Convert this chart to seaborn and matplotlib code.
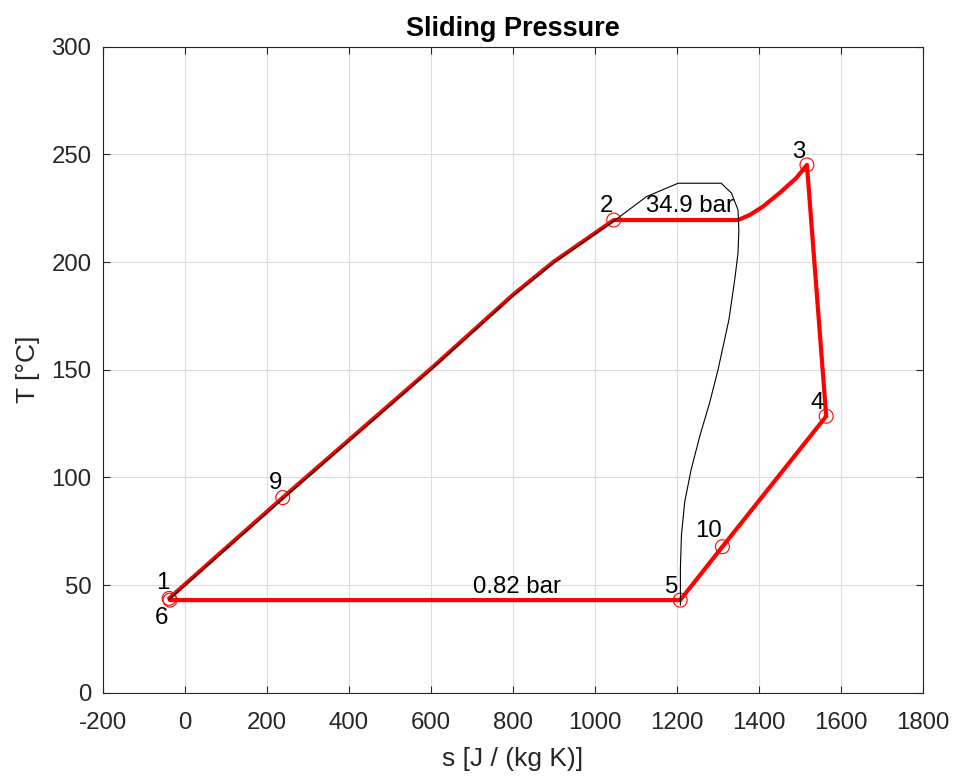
import numpy as np
import pandas as pd
import matplotlib
matplotlib.use("Agg")
import matplotlib.pyplot as plt
import seaborn as sns

# ---------------- data ----------------
# state points (entropy s [J/(kg K)], temperature T [°C])
point_names = ["1", "9", "2", "3", "4", "10", "5", "6"]
point_s = [-38, 239, 1046, 1517, 1564, 1311, 1208, -36]
point_T = [43.8, 90.6, 219.5, 245.1, 128.4, 67.8, 43.0, 43.0]

# cycle path (red): 1 -> 9 -> 2 -> superheat -> 3 -> 4 -> 10 -> 5 -> 6
cycle_s = [-38, 239, 601, 801, 898.6, 1046, 1349, 1378, 1410, 1450, 1491, 1517,
           1564, 1311, 1208, -36]
cycle_T = [43.8, 90.6, 150.6, 184.9, 200.0, 219.5, 219.5, 221.9, 225.8, 232.0, 239.0, 245.1,
           128.4, 67.8, 43.0, 43.0]

# saturation dome (black)
dome_s = [-38, 239, 601, 801, 898.6, 1046, 1126, 1203, 1308, 1333, 1349, 1351,
          1349, 1341, 1327, 1300.5, 1280, 1256, 1235, 1219, 1211, 1208.5, 1208.5]
dome_T = [43.3, 90.0, 150.1, 184.4, 199.5, 219.0, 230.4, 236.6, 236.6, 232.0, 224.2, 215.0,
          204.2, 191.9, 173.4, 150.2, 134.8, 119.3, 103.9, 88.6, 73.1, 57.7, 40.7]

# annotations
label_text = ["1", "6", "9", "2", "34.9 bar", "3", "4", "10", "5", "0.82 bar"]
label_s = [-54, -56, 221, 1028, 1231, 1497, 1543, 1276, 1188, 811]
label_T = [50.8, 34.9, 97.5, 225.8, 225.8, 251.2, 134.4, 75.2, 49.3, 49.3]

x_ticks = list(range(-200, 1801, 200))
y_ticks = list(range(0, 301, 50))

# ---------------- style ----------------
sns.set_style("ticks")
plt.rcParams['font.family'] = ['Liberation Sans', 'DejaVu Sans']
plt.rcParams['axes.unicode_minus'] = False
AX = "#262626"

fig = plt.figure(figsize=(9.55, 7.76), dpi=100)
ax = fig.add_axes([102.7 / 955, (776 - 692.7) / 776, (923 - 102.7) / 955, (692.7 - 46.7) / 776])

cycle_df = pd.DataFrame({"s": cycle_s, "T": cycle_T})
dome_df = pd.DataFrame({"s": dome_s, "T": dome_T})
pts_df = pd.DataFrame({"s": point_s, "T": point_T, "name": point_names})

sns.lineplot(data=cycle_df, x="s", y="T", sort=False, estimator=None, color="red",
             lw=3.0, ax=ax, zorder=3, solid_joinstyle="round")
sns.scatterplot(data=pts_df, x="s", y="T", marker="o", s=100, facecolors="none",
                edgecolors="red", linewidths=0.8, ax=ax, zorder=4)
sns.lineplot(data=dome_df, x="s", y="T", sort=False, estimator=None, color="black",
             lw=0.8, ax=ax, zorder=5, solid_joinstyle="round")

for t, xs, yt in zip(label_text, label_s, label_T):
    ax.text(xs, yt, t, ha="center", va="center", fontsize=17.3, color="black", zorder=6)

ax.set_xlim(-200, 1800)
ax.set_ylim(0, 300)
ax.set_xticks(x_ticks)
ax.set_yticks(y_ticks)
ax.grid(True, color="#dcdcdc", lw=0.8)
ax.set_axisbelow(True)
for sp in ax.spines.values():
    sp.set_visible(True)
    sp.set_color(AX)
    sp.set_linewidth(0.8)
ax.tick_params(direction="in", length=5, width=0.8, color=AX, labelcolor=AX,
               labelsize=17.3, top=True, right=True)
ax.tick_params(axis="x", pad=14)
ax.tick_params(axis="y", pad=8)

ax.set_xlabel("s [J / (kg K)]", fontsize=19, color=AX, labelpad=9)
ax.set_ylabel("T [°C]", fontsize=19, color=AX, labelpad=8)
ax.set_title("Sliding Pressure", fontsize=19.5, fontweight="bold", color="black", pad=8)

fig.savefig("out.png", dpi=100)
